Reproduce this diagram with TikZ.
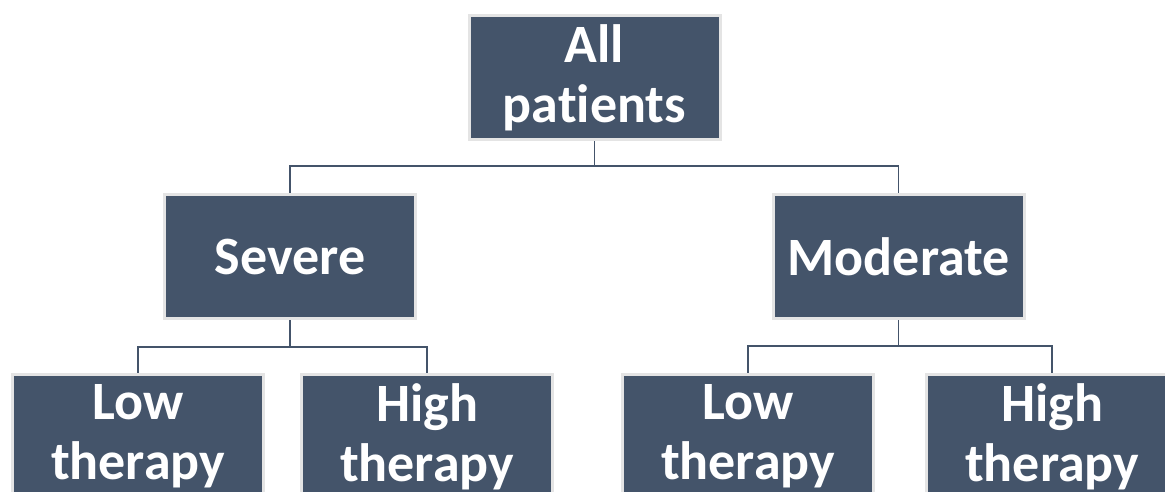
\documentclass[tikz,border=0pt]{standalone}
\usepackage{fontspec}
\setmainfont[Ligatures = NoCommon]{Carlito}
\usetikzlibrary{positioning}
\definecolor{boxblue}{HTML}{44546A}
\definecolor{boxrim}{HTML}{E4E4E4}
\pgfdeclarelayer{background}
\pgfsetlayers{background,main}

\begin{document}
\begin{tikzpicture}[x = 1pt, y = 1pt, on grid, group/.style = {rectangle, fill = boxblue, draw = boxrim, line width = 3pt, minimum width = 251pt, minimum height = 124pt, inner sep = 0pt, text = white, align = center, font = \fontsize{54}{60}\selectfont\bfseries}, link/.style = {draw = boxblue, line width = 1.6pt}]
	\useasboundingbox (0,0) rectangle (1165,-491);
	\clip (0,0) rectangle (1165,-491);
	\node[group] (p0) at (594.5,-77.5) {All\\ patients};
	\node[group] (s0) [below left = 179pt and 304.5pt of p0] {Severe};
	\node[group] (m0) [below right = 179pt and 304pt of p0] {Moderate};
	\node[group] (l0) [below left = 180pt and 152pt of s0] {Low\\ therapy};
	\node[group] (h0) [below right = 180pt and 137pt of s0] {High\\ therapy};
	\node[group] (l1) [below left = 180pt and 150.5pt of m0] {Low\\ therapy};
	\node[group] (h1) [below right = 180pt and 153.5pt of m0] {High\\ therapy};
	\begin{pgfonlayer}{background}
		\path[link] (p0.south) -- ++(0,-25) coordinate (j0) -| (s0.north);
		\path[link] (j0) -| (m0.north);
		\path[link] (s0.south) -- ++(0,-27) coordinate (j1) -| (l0.north);
		\path[link] (j1) -| (h0.north);
		\path[link] (m0.south) -- ++(0,-26) coordinate (j2) -| (l1.north);
		\path[link] (j2) -| (h1.north);
	\end{pgfonlayer}
\end{tikzpicture}
\end{document}
